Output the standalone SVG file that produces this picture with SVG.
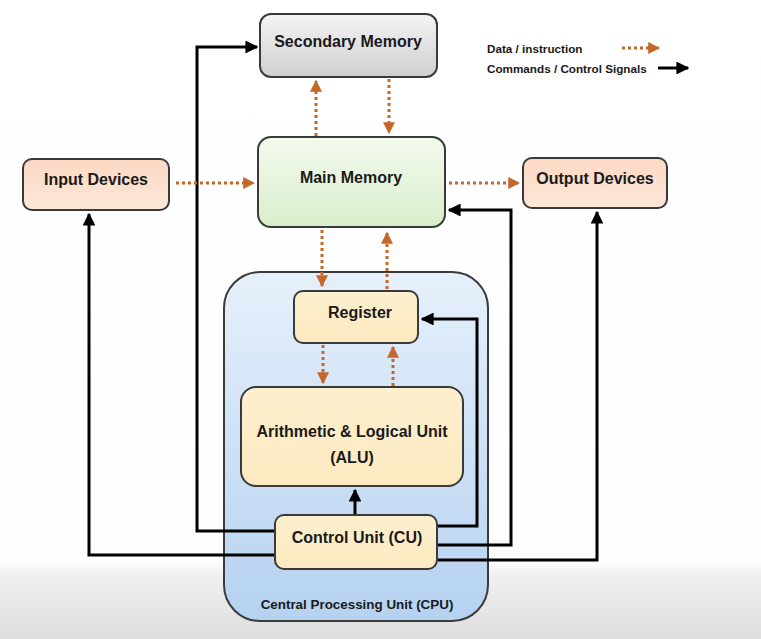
<svg xmlns="http://www.w3.org/2000/svg" width="761" height="639" viewBox="0 0 761 639">
<defs>
  <linearGradient id="bg" x1="0" y1="0" x2="0" y2="1">
    <stop offset="0" stop-color="#ffffff"/>
    <stop offset="0.88" stop-color="#fdfdfd"/>
    <stop offset="0.9" stop-color="#f0f0f0"/>
    <stop offset="1" stop-color="#dedede"/>
  </linearGradient>
  <linearGradient id="gGray" x1="0" y1="0" x2="0" y2="1">
    <stop offset="0" stop-color="#f4f4f4"/>
    <stop offset="1" stop-color="#cfcfcf"/>
  </linearGradient>
  <linearGradient id="gGreen" x1="0" y1="0" x2="0" y2="1">
    <stop offset="0" stop-color="#f3faee"/>
    <stop offset="1" stop-color="#d9eecb"/>
  </linearGradient>
  <linearGradient id="gPeach" x1="0" y1="0" x2="0" y2="1">
    <stop offset="0" stop-color="#fbd9c4"/>
    <stop offset="1" stop-color="#fde6d8"/>
  </linearGradient>
  <linearGradient id="gBlue" x1="0" y1="0" x2="0" y2="1">
    <stop offset="0" stop-color="#e6f0fb"/>
    <stop offset="1" stop-color="#b5d2f0"/>
  </linearGradient>
  <linearGradient id="gYellow" x1="0" y1="0" x2="0" y2="1">
    <stop offset="0" stop-color="#fdf0cf"/>
    <stop offset="1" stop-color="#fce9c0"/>
  </linearGradient>
  <marker id="ab" viewBox="0 0 10 10" refX="9" refY="5" markerWidth="4.3" markerHeight="4.3" orient="auto" markerUnits="strokeWidth">
    <path d="M0,0 L10,5 L0,10 z" fill="#000"/>
  </marker>
  <marker id="ao" viewBox="0 0 10 10" refX="9" refY="5" markerWidth="4" markerHeight="4" orient="auto" markerUnits="strokeWidth">
    <path d="M0,0 L10,5 L0,10 z" fill="#c5672a"/>
  </marker>
</defs>
<style>
  .box { stroke: #3a3a3a; stroke-width: 2; }
  .t { font-family: "Liberation Sans", Arial, sans-serif; font-weight: bold; fill: #1a1a1a; text-anchor: middle; font-size: 16px; }
  .lg { font-family: "Liberation Sans", Arial, sans-serif; font-weight: bold; fill: #1a1a1a; font-size: 11.7px; }
  .ctl { fill: none; stroke: #000; stroke-width: 3; marker-end: url(#ab); }
  .dat { fill: none; stroke: #c5672a; stroke-width: 3; stroke-dasharray: 3 3; marker-end: url(#ao); }
</style>
<rect x="0" y="0" width="761" height="639" fill="url(#bg)"/>

<g id="cpu">
  <rect class="box" x="224" y="272" width="264" height="349" rx="36" fill="url(#gBlue)"/>
  <text class="t" x="357" y="609" style="font-size:13.4px" fill="#1f2a44">Central Processing Unit (CPU)</text>
</g>

<g id="connectors">
  <path class="ctl" d="M275,531 H197 V47 H257"/>
  <path class="ctl" d="M275,555 H89 V214"/>
  <path class="ctl" d="M438,526 H477 V319 H422"/>
  <path class="ctl" d="M438,545 H511 V210 H449"/>
  <path class="ctl" d="M438,560 H597 V212"/>
  <path class="ctl" d="M355,515 V490"/>
  <path class="dat" d="M316,136 V81"/>
  <path class="dat" d="M389,79 V133"/>
  <path class="dat" d="M176,183 H254"/>
  <path class="dat" d="M449,183 H519"/>
  <path class="dat" d="M322,230 V286"/>
  <path class="dat" d="M387,289 V233"/>
  <path class="dat" d="M323,345 V383"/>
  <path class="dat" d="M393,386 V347"/>
</g>

<g id="secondary-memory">
  <rect class="box" x="260" y="14" width="177" height="63" rx="11" fill="url(#gGray)"/>
  <text class="t" x="348" y="47">Secondary Memory</text>
</g>
<g id="main-memory">
  <rect class="box" x="258" y="137" width="187" height="90" rx="13" fill="url(#gGreen)"/>
  <text class="t" x="351" y="183">Main Memory</text>
</g>
<g id="input-devices">
  <rect class="box" x="23" y="159" width="146" height="51" rx="9" fill="url(#gPeach)"/>
  <text class="t" x="96" y="185">Input Devices</text>
</g>
<g id="output-devices">
  <rect class="box" x="523" y="158" width="144" height="50" rx="9" fill="url(#gPeach)"/>
  <text class="t" x="595" y="184">Output Devices</text>
</g>
<g id="register">
  <rect class="box" x="294" y="291" width="124" height="52" rx="9" fill="url(#gYellow)"/>
  <text class="t" x="360" y="318">Register</text>
</g>
<g id="alu">
  <rect class="box" x="241" y="387" width="222" height="99" rx="15" fill="url(#gYellow)"/>
  <text class="t" x="352" y="437">Arithmetic &amp; Logical Unit</text>
  <text class="t" x="352" y="463">(ALU)</text>
</g>
<g id="control-unit">
  <rect class="box" x="275" y="515" width="162" height="54" rx="9" fill="url(#gYellow)"/>
  <text class="t" x="357" y="543">Control Unit (CU)</text>
</g>

<g id="legend">
  <text class="lg" x="487" y="53">Data / instruction</text>
  <text class="lg" x="487" y="73">Commands / Control Signals</text>
  <path class="dat" d="M622,48 H659"/>
  <path class="ctl" d="M658,68 H688"/>
</g>
</svg>
